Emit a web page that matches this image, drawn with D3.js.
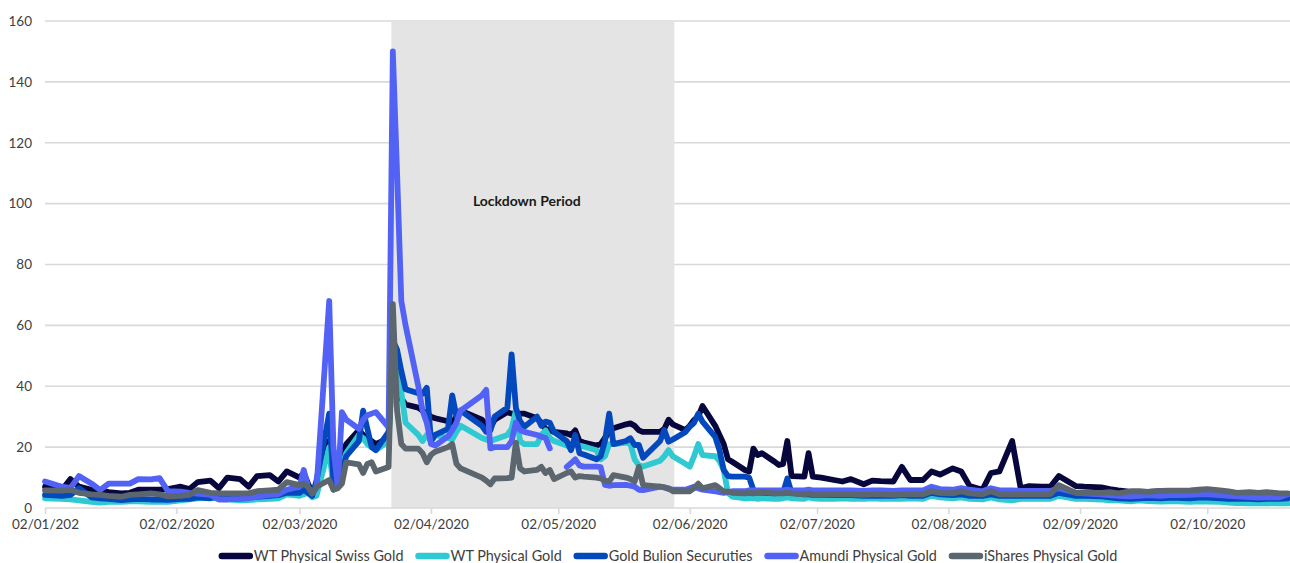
<!DOCTYPE html>
<html><head><meta charset="utf-8">
<script src="https://cdn.jsdelivr.net/npm/d3@7"></script>
<style>
body{margin:0;background:#fff;}
svg text{font-family:Lato,"Noto Sans",sans-serif;}
</style>
</head><body>
<svg id="chart" width="1290" height="563"></svg>
<script>
const dates = ["2020-01-02","2020-01-06","2020-01-08","2020-01-10","2020-01-13","2020-01-15","2020-01-17","2020-01-20","2020-01-22","2020-01-24","2020-01-27","2020-01-29","2020-01-31",
"2020-02-03","2020-02-05","2020-02-07","2020-02-10","2020-02-12","2020-02-14","2020-02-17","2020-02-19","2020-02-21","2020-02-24","2020-02-26","2020-02-28",
"2020-03-02","2020-03-03","2020-03-04","2020-03-05","2020-03-06","2020-03-09","2020-03-10","2020-03-11","2020-03-12","2020-03-13","2020-03-16","2020-03-17","2020-03-18","2020-03-19","2020-03-20","2020-03-23","2020-03-24","2020-03-25","2020-03-26","2020-03-27","2020-03-30","2020-03-31",
"2020-04-01","2020-04-02","2020-04-03","2020-04-06","2020-04-07","2020-04-08","2020-04-09","2020-04-14","2020-04-15","2020-04-16","2020-04-17","2020-04-20","2020-04-21","2020-04-22","2020-04-23","2020-04-24","2020-04-27","2020-04-28","2020-04-29","2020-04-30",
"2020-05-01","2020-05-04","2020-05-05","2020-05-06","2020-05-07","2020-05-08","2020-05-11","2020-05-12","2020-05-13","2020-05-14","2020-05-15","2020-05-18","2020-05-19","2020-05-20","2020-05-21","2020-05-22","2020-05-26","2020-05-27","2020-05-28","2020-05-29",
"2020-06-01","2020-06-02","2020-06-03","2020-06-04","2020-06-05","2020-06-08","2020-06-09","2020-06-10","2020-06-11","2020-06-12","2020-06-15","2020-06-16","2020-06-17","2020-06-18","2020-06-19","2020-06-22","2020-06-23","2020-06-24","2020-06-25","2020-06-26","2020-06-29","2020-06-30",
"2020-07-01","2020-07-03","2020-07-06","2020-07-08","2020-07-10","2020-07-13","2020-07-15","2020-07-17","2020-07-20","2020-07-22","2020-07-24","2020-07-27","2020-07-29","2020-07-31",
"2020-08-03","2020-08-05","2020-08-07","2020-08-10","2020-08-12","2020-08-14","2020-08-17","2020-08-19","2020-08-21","2020-08-24","2020-08-26","2020-08-28",
"2020-09-01","2020-09-03","2020-09-07","2020-09-09","2020-09-11","2020-09-14","2020-09-16","2020-09-18","2020-09-21","2020-09-23","2020-09-25","2020-09-28","2020-09-30",
"2020-10-02","2020-10-05","2020-10-07","2020-10-09","2020-10-12","2020-10-14","2020-10-16","2020-10-19","2020-10-21"];

const wtSwissGold = [7,6,9.5,7,6,5.8,5.2,4.8,5,6,6,6,6.2,
7,6.2,8.5,9,6.5,10,9.5,7,10.5,10.8,8.7,12,
10,11.5,8,5,7,22,8,12,17,21,25.6,24,23,22,21,23,50,42,36,34,33,32,
31,30,29.5,28.5,28,30,32,29,27.5,26.5,29,31.5,31,31,31,31,29.5,28,26,25.5,
25,24.5,24,25.5,22,21.5,20.5,21,23,25,26.2,27.5,27.8,27,25.5,25,25,26,29,27.5,
25.6,27,28.9,30,33.5,27,24,21,16,15.2,12.5,12,19.5,17.4,18,15.2,14.1,14.5,22,10.5,10.3,18,
10.3,10,9.2,8.7,9.5,7.8,9,8.8,8.7,13.5,9.2,9.2,12,11,
13,12,7.2,6,11.5,12,22,6.5,7.2,7,7,10.5,
7.2,7,6.8,6.2,5.8,5.3,5.2,5.3,5.5,5.5,5.5,5.5,5.7,
5.8,5.5,5.2,4.8,4.8,4.6,4.8,4.5,4.5];

const wtPhysicalGold = [3.2,3,2.8,2.5,2,1.8,2,2,2.2,2.2,2,2,2,
2.5,2.8,3.2,3.5,3,2.8,2.5,2.6,2.8,3,3.2,4.5,
4,4.5,5,3.5,4,20,6,8,14,18,24,23,21,20,19,22,48,45,38,28,24,22,
24,22,24,23,22.5,25,27,23,22.5,22,22.5,24,26,32,22,21,21,24,25.5,23,
22,20.5,20,21,20.5,20.2,19,16,17,21,21,21.5,21,16,14,13.6,15.5,17,19,17,
14.5,13.6,17,21,17.4,17,15.5,12.5,5,3.7,3.2,3.2,3.3,3,3.2,3,3,3.2,3.5,3.2,3,3.5,
3.2,3,3,3.2,3,3,3.2,3,3,3,3.2,3,4,3.5,
3.2,3.5,3,2.8,3.5,2.8,2.5,3,3,3,3,4,
3,3,2.8,2.5,2.5,2.2,2.5,2.3,2.1,2.2,2.2,2,2.2,
2.1,2,1.8,1.6,1.5,1.5,1.6,1.5,1.5];

const goldBullionSecurities = [4.3,4,4.3,6.5,3.5,3.2,3,2.6,2.8,3,2.8,2.8,2.7,
3,3,3.5,3.2,4,3.5,3.2,3.4,3.7,4,4.2,5,
5,6,5,4,9,31,9,8,12,17,22,32,26,20,19,25,55,52,45,39,37.7,37.5,
39.5,22,24,26,37,30,32,27,25,25.5,30,33,50.5,33,28.5,26.7,30,27,28.4,28,
25,22,19,24,18,17.6,16,17,22,31,21,22,22.9,20.7,20.7,16.5,22,25.6,21.8,22.5,
25,26.7,28,31,28.4,23.4,19,12.5,10.5,10.3,10.3,10,5.9,5,5,4.8,5,5,9.7,5,4.5,4.5,
4.3,4.3,4.2,4.2,4.2,4,4,4,4,4.2,4,4,5,4.5,
4.2,4.5,4,4,4.5,4,4,4,4,4,4,5,
4,4,3.8,3.5,3.2,3,3.2,3.3,3.2,3.3,3.3,3.2,3.4,
3.4,3.2,3,3,3,2.8,3,3,3.2];

const amundiPhysicalGold = [8.7,7,6.5,10.5,8,5.9,8,8,8,9.5,9.4,9.8,5.5,
5.4,5,4.7,4.3,2.8,2.8,3,3.2,3.7,4.3,4.5,6,
7,12.5,7,4.8,6.5,68,20,7,31.5,29,26,29,30.5,31,31.5,26.5,150,110,68,60,40,32,
28,21,20.5,23.5,25.5,28,32,37,38.8,19.6,20,20,22,28,25.6,25,24,23.4,23,19.6,
null,13.5,14.7,16,14,13.6,13.6,13.4,7.6,7.3,7.5,7.6,7.3,7,6,5.9,7,6.8,6.2,6,
6,6.5,7,6.5,6,5.5,5.2,5,5.2,5.5,5.5,5.8,5.8,5.8,5.8,5.8,5.8,5.8,6,5.8,5.8,6,
5.8,5.8,5.8,5.8,5.8,5.6,5.8,5.8,5.6,5.8,5.8,5.8,7,6.2,
6,6.5,6,5.5,6.5,5.8,5.8,5.6,5.6,5.6,5.6,6.5,
5,4.8,4.5,4.2,4,3.8,4,4.2,4,4.2,4.2,4.3,4.5,
4.5,4.2,4,3.8,3.6,3.4,3.5,3.5,4.5];

const iSharesPhysicalGold = [5.8,5.7,6,5,4.5,4.3,4,3.7,4.3,4.5,4.8,4.5,3.8,
4,4.3,5.9,5,4.8,4.8,4.8,4.8,5.5,5.8,6,8.5,
7.5,8,7,4.8,7,9.2,6,6.5,8,15,14.3,11.5,14.5,15,12,13.5,67,32,21,19.5,19.5,18,
15,17.5,18.5,20,21,14.5,13,10,9,7.8,9.7,9.8,10,21.5,13,12,12.5,13.5,11.5,12.5,
9.5,11.5,12,10,10.5,10.3,10,9.7,9,8.7,10.8,10,9.5,8.7,13.5,7.5,7,6.8,6.5,5.5,
5.5,5.5,6.5,8,6.5,7.5,6.5,5.4,5.4,5,4.8,5,4.8,5,5.2,4.8,4.8,4.8,5,4.8,4.5,4.8,
4.5,4.5,4.5,4.5,4.5,4.3,4.5,4.5,4.3,4.5,4.5,4.5,5.5,5,
4.8,5.5,4.8,4.5,5.5,4.5,4.5,4.5,4.5,4.5,4.6,7.5,
5,5,5,5.2,4.8,5.5,5.5,5.3,5.6,5.7,5.7,5.8,6,
6.2,5.8,5.5,5,5.2,5,5.2,4.8,4.8];

const seriesNames = ["WT Physical Swiss Gold","WT Physical Gold","Gold Bulion Securuties","Amundi Physical Gold","iShares Physical Gold"];
const seriesValues = [wtSwissGold, wtPhysicalGold, goldBullionSecurities, amundiPhysicalGold, iSharesPhysicalGold];
const seriesColors = ["#07063d","#2ec9d1","#0448bd","#5262f5","#5c666e"];

const yTicks = [0,20,40,60,80,100,120,140,160];
const xTickDates = ["2020-01-02","2020-02-02","2020-03-02","2020-04-02","2020-05-02","2020-06-02","2020-07-02","2020-08-02","2020-09-02","2020-10-02"];
const xTickLabels = ["02/01/202","02/02/2020","02/03/2020","02/04/2020","02/05/2020","02/06/2020","02/07/2020","02/08/2020","02/09/2020","02/10/2020"];
const lockdownPeriod = ["2020-03-24","2020-05-29"];
const lockdownLabel = "Lockdown Period";

const parse = d3.utcParse("%Y-%m-%d");
const svg = d3.select("#chart");
const x = d3.scaleUtc().domain([parse("2020-01-02"), new Date(Date.UTC(2020,9,21,12))]).range([45,1290]);
const y = d3.scaleLinear().domain([0,160]).range([508,21]);

// gridlines
svg.append("g").selectAll("line").data(yTicks.filter(d=>d>0)).join("line")
  .attr("x1",45).attr("x2",1290).attr("y1",d=>y(d)).attr("y2",d=>y(d))
  .attr("stroke","#d9d9d9").attr("stroke-width",1.6);

// lockdown shading
const ls = x(parse(lockdownPeriod[0])) - 1.5, le = x(parse(lockdownPeriod[1])) + 1.5;
svg.append("rect").attr("x",ls).attr("y",y(160)).attr("width",le-ls).attr("height",y(0)-y(160)).attr("fill","#e4e4e4");
svg.append("text").attr("x",(ls+le)/2-6).attr("y",206).attr("text-anchor","middle")
  .attr("font-size",14).attr("font-weight","bold").attr("fill","#1a1a1a").text(lockdownLabel);

// y axis labels
const yAxis = d3.axisLeft(y).tickValues(yTicks).tickSize(0).tickPadding(13);
const gy = svg.append("g").attr("transform","translate(45,0)").call(yAxis);
gy.select(".domain").remove();
gy.selectAll("text").attr("font-size",13.5).attr("fill","#404040").style("font-family","Lato, 'Noto Sans', sans-serif");

// x axis
const xAxis = d3.axisBottom(x).tickValues(xTickDates.map(parse)).tickFormat((d,i)=>xTickLabels[i]).tickSize(6).tickPadding(5).tickSizeOuter(0);
const gx = svg.append("g").attr("transform","translate(0,508)").call(xAxis);
gx.select(".domain").attr("stroke","#d9d9d9").attr("stroke-width",1.6).attr("d","M45,0H1290");
gx.selectAll(".tick line").attr("stroke","#d9d9d9").attr("stroke-width",1.6);
gx.selectAll("text").attr("font-size",13.5).attr("fill","#404040").style("font-family","Lato, 'Noto Sans', sans-serif");

// lines
const parsedDates = dates.map(parse);
seriesValues.forEach((vals,si)=>{
  const line = d3.line().defined(d=>d[1]!=null).x(d=>x(d[0])).y(d=>y(d[1]));
  svg.append("path").datum(parsedDates.map((dt,i)=>[dt,vals[i]]))
    .attr("d",line).attr("fill","none").attr("stroke",seriesColors[si])
    .attr("stroke-width",5.8).attr("stroke-linejoin","round").attr("stroke-linecap","round");
});

// legend
const lg = svg.append("g");
let lx = 0;
seriesNames.forEach((n,i)=>{
  const g = lg.append("g");
  g.append("line").attr("x1",lx+3).attr("x2",lx+31).attr("y1",556).attr("y2",556)
    .attr("stroke",seriesColors[i]).attr("stroke-width",6.5).attr("stroke-linecap","round");
  const t = g.append("text").attr("x",lx+35).attr("y",561).attr("font-size",14.4).attr("fill","#404040").text(n);
  lx += 35 + t.node().getComputedTextLength() + 12;
});
const totalW = lx - 12;
lg.attr("transform",`translate(${668 - totalW/2},0)`);
</script>
</body></html>
